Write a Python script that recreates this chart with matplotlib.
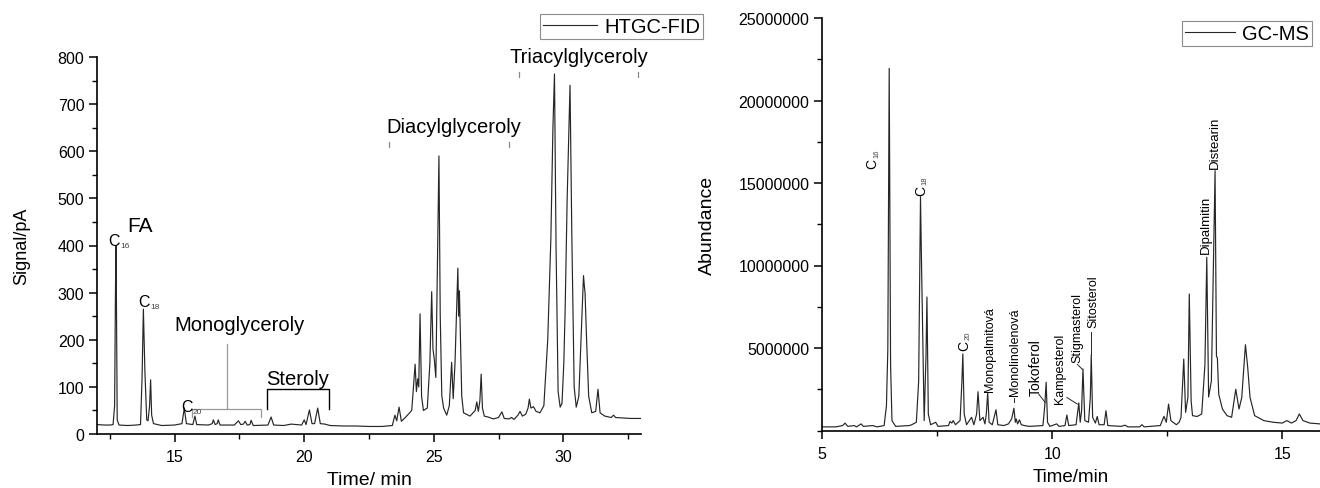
import matplotlib
matplotlib.use("Agg")
import matplotlib.pyplot as plt
from matplotlib.ticker import MultipleLocator
from matplotlib.transforms import offset_copy

plt.rcParams["font.family"] = ["Liberation Sans", "DejaVu Sans"]

# HTGC-FID trace, vertices (time / min, signal / pA)
fid_time = [
    12.0, 12.3, 12.5, 12.62, 12.68, 12.71, 12.73, 12.75, 12.78, 12.85,
    13.2, 13.5, 13.68, 13.74, 13.79, 13.83, 13.85, 13.88, 13.92, 13.97,
    14.03, 14.07, 14.11, 14.18, 14.5, 15.0, 15.28, 15.37, 15.45, 15.7,
    15.78, 15.85, 16.3, 16.45, 16.49, 16.56, 16.64, 16.68, 16.75, 17.3,
    17.46, 17.55, 17.65, 17.72, 17.8, 17.9, 17.95, 18.03, 18.6, 18.72,
    18.82, 19.2, 19.5, 19.9, 20.0, 20.07, 20.2, 20.3, 20.4, 20.52,
    20.62, 20.8, 21.0, 21.5, 22.0, 22.5, 23.0, 23.4, 23.5, 23.57,
    23.66, 23.75, 23.9, 24.02, 24.15, 24.28, 24.33, 24.38, 24.42, 24.47,
    24.53, 24.6, 24.75, 24.85, 24.92, 24.97, 25.02, 25.08, 25.15, 25.2,
    25.25, 25.31, 25.38, 25.5, 25.6, 25.69, 25.75, 25.82, 25.88, 25.93,
    25.96, 25.99, 26.03, 26.08, 26.15, 26.4, 26.6, 26.66, 26.72, 26.78,
    26.83, 26.88, 26.95, 27.1, 27.3, 27.5, 27.63, 27.72, 27.9, 28.0,
    28.1, 28.25, 28.33, 28.42, 28.55, 28.64, 28.69, 28.75, 28.85, 28.95,
    29.1, 29.25, 29.4, 29.52, 29.6, 29.66, 29.72, 29.8, 29.88, 29.95,
    30.02, 30.07, 30.15, 30.26, 30.33, 30.42, 30.5, 30.6, 30.7, 30.78,
    30.82, 30.84, 30.9, 30.98, 31.1, 31.25, 31.34, 31.42, 31.6, 31.85,
    31.94, 32.02, 32.3, 32.6, 33.0,
]
fid_signal = [
    20, 19, 19, 20, 60, 285, 400, 285, 30, 19,
    18, 19, 20, 120, 265, 180, 131, 90, 30, 28,
    60, 115, 40, 22, 18, 19, 22, 55, 22, 20,
    38, 20, 19, 22, 30, 20, 22, 30, 19, 19,
    28, 20, 21, 27, 19, 20, 29, 18, 19, 36,
    19, 18, 21, 19, 30, 20, 51, 22, 22, 55,
    22, 21, 18, 17, 17, 16, 16, 18, 40, 28,
    57, 27, 35, 42, 50, 148, 90, 117, 100, 255,
    80, 50, 55, 150, 302, 180, 159, 120, 400, 590,
    250, 81, 55, 40, 60, 152, 75, 150, 260, 352,
    250, 304, 200, 80, 45, 38, 50, 68, 48, 70,
    127, 55, 38, 36, 32, 35, 47, 33, 32, 35,
    31, 40, 48, 38, 42, 55, 74, 55, 58, 48,
    45, 60, 200, 414, 650, 764, 400, 90, 57, 65,
    150, 259, 500, 740, 420, 100, 57, 80, 220, 336,
    310, 300, 200, 80, 45, 48, 95, 45, 38, 35,
    40, 35, 34, 33, 33,
]

# GC-MS trace (time / min, abundance in millions)
ms_time = [
    5.0, 5.3, 5.45, 5.5, 5.56, 5.7, 5.75, 5.85, 5.9, 6.1,
    6.2, 6.35, 6.40, 6.43, 6.46, 6.49, 6.52, 6.6, 6.9, 6.95,
    7.05, 7.10, 7.14, 7.16, 7.22, 7.26, 7.28, 7.31, 7.36, 7.47,
    7.52, 7.75, 7.78, 7.82, 7.85, 7.9, 8.0, 8.04, 8.06, 8.09,
    8.14, 8.25, 8.3, 8.36, 8.39, 8.43, 8.5, 8.54, 8.57, 8.60,
    8.63, 8.7, 8.78, 8.82, 8.95, 9.05, 9.12, 9.17, 9.2, 9.22,
    9.25, 9.29, 9.33, 9.4, 9.5, 9.8, 9.84, 9.87, 9.9, 9.95,
    10.1, 10.15, 10.28, 10.32, 10.36, 10.52, 10.58, 10.61, 10.64, 10.67,
    10.71, 10.79, 10.83, 10.85, 10.88, 10.94, 10.98, 11.02, 11.13, 11.17,
    11.21, 11.5, 11.58, 11.65, 11.9, 11.95, 12.0, 12.35, 12.43, 12.48,
    12.53, 12.58, 12.7, 12.76, 12.8, 12.86, 12.9, 12.95, 12.98, 13.02,
    13.05, 13.15, 13.25, 13.32, 13.36, 13.4, 13.46, 13.54, 13.57, 13.59,
    13.62, 13.7, 13.8, 13.9, 13.99, 14.06, 14.12, 14.2, 14.25, 14.3,
    14.4, 14.6, 14.8, 15.0, 15.1, 15.2, 15.3, 15.37, 15.45, 15.6,
    15.82,
]
ms_abundance_m = [
    0.22, 0.22, 0.3, 0.45, 0.25, 0.3, 0.22, 0.4, 0.25, 0.3,
    0.22, 0.3, 1.5, 4.9, 21.95, 4.0, 0.6, 0.25, 0.3, 0.35,
    0.5, 3.0, 14.17, 10.5, 0.6, 4.6, 8.09, 1.0, 0.35, 0.5,
    0.25, 0.3, 0.55, 0.45, 0.6, 0.35, 0.6, 3.0, 4.64, 1.0,
    0.35, 0.8, 0.35, 1.0, 2.35, 0.6, 0.8, 0.4, 1.0, 2.3,
    0.5, 0.35, 1.26, 0.35, 0.3, 0.4, 0.7, 1.35, 0.5, 0.7,
    0.4, 0.65, 0.35, 0.3, 0.25, 0.3, 1.5, 2.92, 0.5, 0.25,
    0.4, 0.25, 0.3, 0.94, 0.3, 0.35, 1.67, 0.5, 1.2, 3.73,
    0.6, 0.5, 2.0, 4.58, 0.8, 0.45, 0.85, 0.35, 0.35, 1.2,
    0.3, 0.25, 0.32, 0.22, 0.22, 0.35, 0.22, 0.3, 0.86, 0.5,
    1.6, 0.6, 0.35, 0.5, 0.8, 4.33, 1.1, 2.0, 8.27, 1.8,
    0.9, 0.85, 1.0, 4.0, 10.5, 2.03, 3.0, 15.75, 4.5, 4.4,
    2.2, 1.3, 0.9, 0.8, 2.5, 1.3, 2.0, 5.2, 3.8, 2.0,
    0.9, 0.6, 0.5, 0.45, 0.6, 0.45, 0.6, 1.0, 0.6, 0.45,
    0.4,
]
ms_abundance = [v * 1e6 for v in ms_abundance_m]

# carbon-number labels (subscript, time, value)
fid_carbon_labels = [("16", 12.42, 410), ("18", 13.6, 282), ("20", 15.24, 59)]
ms_carbon_labels = [("16", 6.10, 15.9e6), ("18", 7.16, 14.3e6), ("20", 8.09, 4.85e6)]
# compound labels on the GC-MS trace (text, time, abundance, fontsize)
ms_peak_labels = [
    ("Monopalmitová", 8.66, 4.95e6, 9), ("Monolinolenová", 9.19, 4.8e6, 9),
    ("Tokoferol", 9.64, 3.9e6, 10), ("Kampesterol", 10.18, 3.8e6, 9),
    ("Stigmasterol", 10.55, 6.3e6, 9), ("Sitosterol", 10.90, 7.85e6, 9),
    ("Dipalmitin", 13.34, 12.5e6, 9.5), ("Distearin", 13.53, 17.5e6, 9.5),
]
# leader lines (t0, a0, t1, a1)
ms_leaders = [(9.17, 1.75e6, 9.17, 2.0e6), (9.71, 2.2e6, 9.85, 1.7e6),
              (10.32, 2.0e6, 10.55, 1.6e6), (10.55, 4.0e6, 10.66, 3.7e6),
              (10.85, 5.97e6, 10.85, 4.6e6)]

fig = plt.figure(figsize=(13.2, 4.89), dpi=100)
W, H = 1320, 489
ax1 = fig.add_axes([97 / W, 54 / H, 544 / W, 377 / H])
ax2 = fig.add_axes([822 / W, 57.5 / H, 498 / W, 412.5 / H])

line_kw = dict(color="#262626", lw=0.85)
ax1.plot(fid_time, fid_signal, label="HTGC-FID", **line_kw)
ax2.plot(ms_time, ms_abundance, label="GC-MS", **line_kw)

# left axis formatting
ax1.set_xlim(12, 33)
ax1.set_ylim(0, 800)
ax1.xaxis.set_major_locator(MultipleLocator(5))
ax1.xaxis.set_minor_locator(MultipleLocator(2.5))
ax1.yaxis.set_major_locator(MultipleLocator(100))
ax1.yaxis.set_minor_locator(MultipleLocator(50))
ax1.set_xlabel("Time/ min", fontsize=14, labelpad=5)
ax1.set_ylabel("Signal/pA", fontsize=13, labelpad=20)

# right axis formatting
ax2.set_xlim(5, 15.82)
ax2.set_ylim(0, 25e6)
ax2.xaxis.set_major_locator(MultipleLocator(5))
ax2.xaxis.set_minor_locator(MultipleLocator(2.5))
ax2.set_yticks([5e6, 10e6, 15e6, 20e6, 25e6])
ax2.set_yticklabels(["5000000", "10000000", "15000000", "20000000", "25000000"])
ax2.yaxis.set_minor_locator(MultipleLocator(2.5e6))
ax2.set_xlabel("Time/min", fontsize=13.5, labelpad=5)
ax2.set_ylabel("Abundance", fontsize=14, labelpad=16)

for ax in (ax1, ax2):
    for side in ("top", "right"):
        ax.spines[side].set_visible(False)
    for side in ("left", "bottom"):
        ax.spines[side].set_linewidth(1.2)
    ax.tick_params(which="major", direction="out", length=6, width=1.1, labelsize=11.5, pad=3)
    ax.tick_params(which="minor", direction="out", length=3.5, width=1.0)
    ax.tick_params(axis="x", pad=5)

# left annotations
for digits, t, s in fid_carbon_labels:
    ax1.text(t, s, "C", fontsize=11.5, ha="left", va="center")
    tr = offset_copy(ax1.transData, fig=fig, x=12, y=-5, units="dots")
    ax1.text(t, s, digits, fontsize=6, ha="left", va="center", color="#444444", transform=tr)
ax1.text(13.66, 443, "FA", fontsize=15, ha="center", va="center")
ax1.text(17.52, 233, "Monoglyceroly", fontsize=14.5, ha="center", va="center")
ax1.plot([17.02, 17.02], [191, 53], color="#9a9a9a", lw=0.9)
ax1.plot([15.67, 15.67, 18.33, 18.33], [36, 53, 53, 36], color="#9a9a9a", lw=0.9)
ax1.text(19.76, 117, "Steroly", fontsize=14.5, ha="center", va="center")
ax1.plot([18.56, 18.56, 20.96, 20.96], [53, 95, 95, 53], color="black", lw=1.0)
ax1.text(25.78, 653, "Diacylglyceroly", fontsize=14.5, ha="center", va="center")
for t in (23.27, 27.9):
    ax1.plot([t, t], [609, 620], color="#8a8a8a", lw=0.9)
ax1.text(30.61, 800, "Triacylglyceroly", fontsize=14.5, ha="center", va="center",
         clip_on=False)
for t in (28.3, 32.9):
    ax1.plot([t, t], [757, 768], color="#8a8a8a", lw=0.9, clip_on=False)

# right annotations
for digits, t, a in ms_carbon_labels:
    ax2.text(t, a, "C", fontsize=10, rotation=90, ha="center", va="bottom")
    tr = offset_copy(ax2.transData, fig=fig, x=4, y=11, units="dots")
    ax2.text(t, a, digits, fontsize=5.5, rotation=90, ha="center", va="bottom",
             color="#444444", transform=tr)
for text, t, a, fs in ms_peak_labels:
    ax2.text(t, a, text, fontsize=fs, rotation=90, ha="center", va="center")
for t0, a0, t1, a1 in ms_leaders:
    ax2.plot([t0, t1], [a0, a1], color="#262626", lw=0.7)

leg_kw = dict(frameon=True, fancybox=False, edgecolor="#707070", fontsize=14.5,
              borderpad=0.15, handletextpad=0.35, borderaxespad=0,
              bbox_transform=fig.transFigure)
leg1 = ax1.legend(loc="upper right", bbox_to_anchor=(703 / W, 1 - 15 / H),
                  handlelength=2.7, **leg_kw)
leg2 = ax2.legend(loc="upper right", bbox_to_anchor=(1312 / W, 1 - 22 / H),
                  handlelength=2.5, **leg_kw)
for leg in (leg1, leg2):
    leg.get_frame().set_linewidth(0.8)
    leg.get_lines()[0].set_linewidth(0.8)

fig.savefig("out.png", dpi=100)
plt.close(fig)
